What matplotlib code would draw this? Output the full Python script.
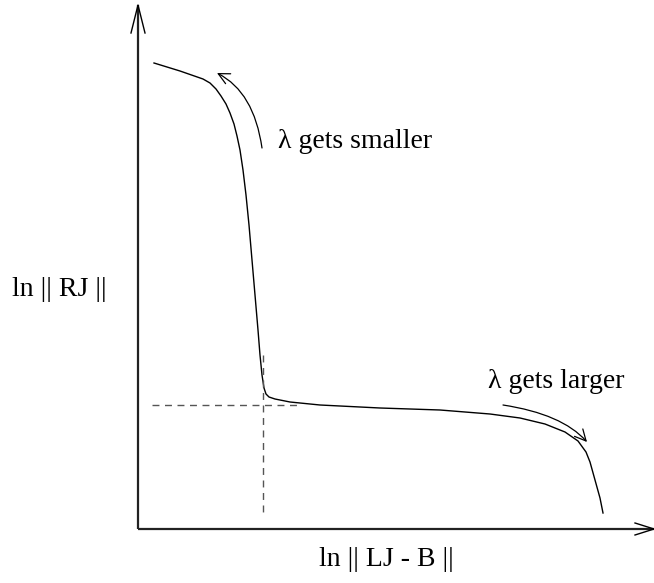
import matplotlib
matplotlib.use("Agg")
import matplotlib.pyplot as plt
from matplotlib.patches import FancyArrowPatch
from matplotlib.path import Path

plt.rcParams['font.family'] = ['Liberation Serif', 'DejaVu Serif']

# L-curve sketch, drawn in a pixel-like frame (y grows downward)
curve_x = [154, 180, 203, 210, 216, 221, 226, 230, 234, 237, 240, 243, 246, 249,
           252, 255, 258, 260, 262, 264, 266, 269, 275, 290, 320, 380, 440, 490,
           520, 545, 565, 578, 586, 590, 595, 600, 603]
curve_y = [63, 71, 79, 83, 89, 96, 104, 113, 124, 136, 150, 170, 195, 225,
           260, 295, 330, 355, 375, 388, 394, 397, 399, 402, 405, 408, 410, 414,
           418, 424, 432, 441, 452, 462, 480, 498, 513]

corner_x = 263
corner_y = 405

origin = (138, 529)
y_tip = (138, 5)
x_tip = (654, 529)

smaller_path = [(262, 148), (254, 92), (217, 73)]
larger_path = [(503, 405), (562, 414), (587, 442)]

fig = plt.figure(figsize=(6.54, 5.83), dpi=100)
ax = fig.add_axes([0, 0, 1, 1])
ax.set_xlim(0, 654)
ax.set_ylim(583, 0)
ax.axis('off')

# axes with open arrow heads
axc = '#222222'
ax.plot([origin[0], y_tip[0]], [origin[1], y_tip[1]], color=axc, lw=1.6, solid_capstyle='butt')
ax.plot([origin[0], x_tip[0]], [origin[1], x_tip[1]], color=axc, lw=1.6, solid_capstyle='butt')
ax.plot([y_tip[0] - 7, y_tip[0], y_tip[0] + 7], [y_tip[1] + 28, y_tip[1], y_tip[1] + 28],
        color='black', lw=1.0)
ax.plot([x_tip[0] - 19, x_tip[0], x_tip[0] - 19], [x_tip[1] - 6, x_tip[1], x_tip[1] + 6],
        color='black', lw=1.0)

# the curve
ax.plot(curve_x, curve_y, color='black', lw=1.0)

# dashed guides through the corner
ax.plot([152, 300], [corner_y, corner_y], color='#555555', lw=1.0, ls=(0, (5, 4)))
ax.plot([corner_x, corner_x], [355, 515], color='#555555', lw=1.0, ls=(0, (5, 4)))

# curved arrows along the curve
for pts in (smaller_path, larger_path):
    p = Path(pts, [Path.MOVETO, Path.CURVE3, Path.CURVE3])
    arr = FancyArrowPatch(path=p, arrowstyle='->', mutation_scale=20,
                          color='black', lw=0.9)
    ax.add_patch(arr)

ax.text(278, 142, '\u03bb gets smaller', fontsize=20, va='center', ha='left')
ax.text(488, 382, '\u03bb gets larger', fontsize=20, va='center', ha='left')
ax.text(12, 290, 'ln || RJ ||', fontsize=20, va='center', ha='left')
ax.text(386, 560, 'ln || LJ - B ||', fontsize=20, va='center', ha='center')

fig.savefig('out.png', dpi=100)
